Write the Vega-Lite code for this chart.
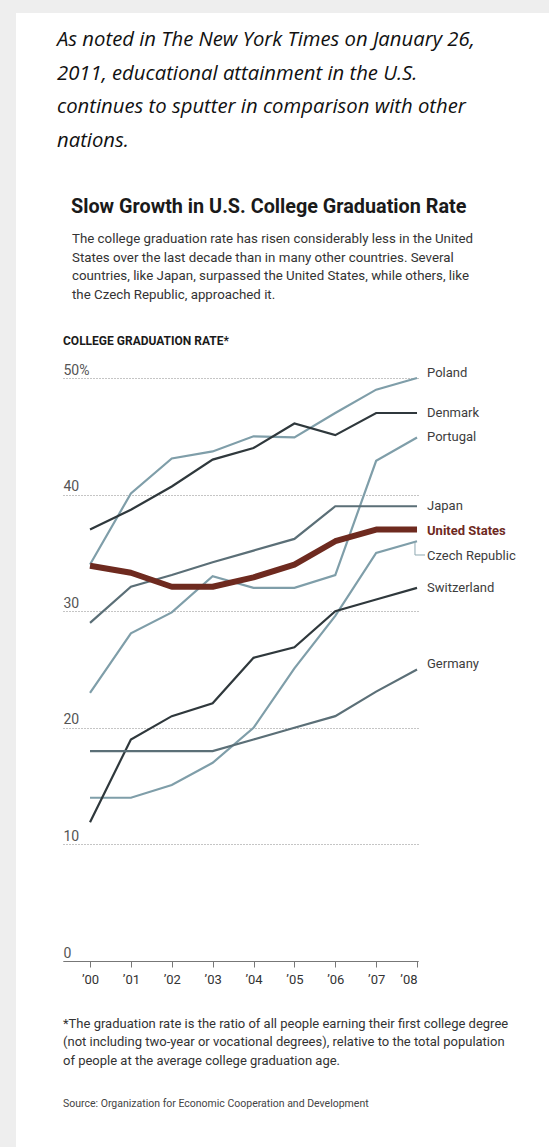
{
  "$schema": "https://vega.github.io/schema/vega-lite/v6.json",
  "width": 355,
  "height": 583,
  "autosize": {"type": "none"},
  "padding": {"left": 63, "top": 378, "right": 131, "bottom": 186},
  "background": "#ffffff",
  "config": {"view": {"stroke": null}, "font": "Roboto"},
  "datasets": {
    "rates": [
      {"country": "Poland", "year": 2000, "rate": 34.0},
      {"country": "Poland", "year": 2001, "rate": 40.1},
      {"country": "Poland", "year": 2002, "rate": 43.1},
      {"country": "Poland", "year": 2003, "rate": 43.7},
      {"country": "Poland", "year": 2004, "rate": 45.0},
      {"country": "Poland", "year": 2005, "rate": 44.9},
      {"country": "Poland", "year": 2006, "rate": 47.0},
      {"country": "Poland", "year": 2007, "rate": 49.0},
      {"country": "Poland", "year": 2008, "rate": 50.0},
      {"country": "Denmark", "year": 2000, "rate": 37.0},
      {"country": "Denmark", "year": 2001, "rate": 38.7},
      {"country": "Denmark", "year": 2002, "rate": 40.7},
      {"country": "Denmark", "year": 2003, "rate": 43.0},
      {"country": "Denmark", "year": 2004, "rate": 44.0},
      {"country": "Denmark", "year": 2005, "rate": 46.1},
      {"country": "Denmark", "year": 2006, "rate": 45.1},
      {"country": "Denmark", "year": 2007, "rate": 47.0},
      {"country": "Denmark", "year": 2008, "rate": 47.0},
      {"country": "Portugal", "year": 2000, "rate": 23.0},
      {"country": "Portugal", "year": 2001, "rate": 28.1},
      {"country": "Portugal", "year": 2002, "rate": 29.9},
      {"country": "Portugal", "year": 2003, "rate": 33.0},
      {"country": "Portugal", "year": 2004, "rate": 32.0},
      {"country": "Portugal", "year": 2005, "rate": 32.0},
      {"country": "Portugal", "year": 2006, "rate": 33.1},
      {"country": "Portugal", "year": 2007, "rate": 42.9},
      {"country": "Portugal", "year": 2008, "rate": 44.9},
      {"country": "Japan", "year": 2000, "rate": 29.0},
      {"country": "Japan", "year": 2001, "rate": 32.1},
      {"country": "Japan", "year": 2002, "rate": 33.1},
      {"country": "Japan", "year": 2003, "rate": 34.2},
      {"country": "Japan", "year": 2004, "rate": 35.2},
      {"country": "Japan", "year": 2005, "rate": 36.2},
      {"country": "Japan", "year": 2006, "rate": 39.0},
      {"country": "Japan", "year": 2007, "rate": 39.0},
      {"country": "Japan", "year": 2008, "rate": 39.0},
      {"country": "United States", "year": 2000, "rate": 33.9},
      {"country": "United States", "year": 2001, "rate": 33.3},
      {"country": "United States", "year": 2002, "rate": 32.1},
      {"country": "United States", "year": 2003, "rate": 32.1},
      {"country": "United States", "year": 2004, "rate": 32.9},
      {"country": "United States", "year": 2005, "rate": 34.0},
      {"country": "United States", "year": 2006, "rate": 36.0},
      {"country": "United States", "year": 2007, "rate": 37.0},
      {"country": "United States", "year": 2008, "rate": 37.0},
      {"country": "Czech Republic", "year": 2000, "rate": 14.0},
      {"country": "Czech Republic", "year": 2001, "rate": 14.0},
      {"country": "Czech Republic", "year": 2002, "rate": 15.1},
      {"country": "Czech Republic", "year": 2003, "rate": 17.0},
      {"country": "Czech Republic", "year": 2004, "rate": 20.0},
      {"country": "Czech Republic", "year": 2005, "rate": 25.1},
      {"country": "Czech Republic", "year": 2006, "rate": 29.6},
      {"country": "Czech Republic", "year": 2007, "rate": 35.0},
      {"country": "Czech Republic", "year": 2008, "rate": 36.0},
      {"country": "Switzerland", "year": 2000, "rate": 11.9},
      {"country": "Switzerland", "year": 2001, "rate": 19.0},
      {"country": "Switzerland", "year": 2002, "rate": 21.0},
      {"country": "Switzerland", "year": 2003, "rate": 22.1},
      {"country": "Switzerland", "year": 2004, "rate": 26.0},
      {"country": "Switzerland", "year": 2005, "rate": 26.9},
      {"country": "Switzerland", "year": 2006, "rate": 30.0},
      {"country": "Switzerland", "year": 2007, "rate": 31.0},
      {"country": "Switzerland", "year": 2008, "rate": 32.0},
      {"country": "Germany", "year": 2000, "rate": 18.0},
      {"country": "Germany", "year": 2001, "rate": 18.0},
      {"country": "Germany", "year": 2002, "rate": 18.0},
      {"country": "Germany", "year": 2003, "rate": 18.0},
      {"country": "Germany", "year": 2004, "rate": 19.0},
      {"country": "Germany", "year": 2005, "rate": 20.0},
      {"country": "Germany", "year": 2006, "rate": 21.0},
      {"country": "Germany", "year": 2007, "rate": 23.1},
      {"country": "Germany", "year": 2008, "rate": 25.0}
    ]
  },
  "layer": [
    {
      "data": {"values": [{}]},
      "mark": {"type": "rect", "color": "#eeeeee"},
      "encoding": {
        "x": {"datum": 1990, "type": "quantitative", "scale": {"domain": [1999.339, 2008.024], "nice": false, "zero": false}},
        "x2": {"datum": 2020},
        "y": {"datum": 90, "type": "quantitative", "scale": {"domain": [0, 50], "nice": false, "zero": false}},
        "y2": {"datum": 81.3}
      }
    },
    {
      "data": {"values": [{}]},
      "mark": {"type": "rect", "color": "#eeeeee"},
      "encoding": {
        "x": {"datum": 1990, "type": "quantitative"},
        "x2": {"datum": 1998.189},
        "y": {"datum": 90, "type": "quantitative"},
        "y2": {"datum": -30}
      }
    },
    {
      "data": {"name": "rates"},
      "transform": [{"filter": "datum.country !== 'United States'"}],
      "mark": {"type": "line", "strokeWidth": 2.2},
      "encoding": {
        "x": {
          "field": "year", "type": "quantitative",
          "scale": {"domain": [1999.339, 2008.024], "nice": false, "zero": false},
          "axis": {
            "values": [2000, 2001, 2002, 2003, 2004, 2005, 2006, 2007, 2008],
            "labelExpr": "'\u2019' + substring(toString(datum.value), 2)",
            "title": null, "grid": false,
            "domainColor": "#777777", "tickColor": "#777777", "tickSize": 6,
            "labelFont": "Roboto", "labelFontSize": 13, "labelColor": "#333333",
            "labelPadding": 6, "labelBaseline": "top"
          }
        },
        "y": {
          "field": "rate", "type": "quantitative",
          "scale": {"domain": [0, 50], "nice": false, "zero": false},
          "axis": {
            "values": [0, 10, 20, 30, 40, 50],
            "title": null, "domain": false, "ticks": false, "tickSize": 0,
            "labelAlign": "left", "labelBaseline": "alphabetic", "labelPadding": 0, "labelOffset": -4,
            "labelExpr": "datum.value == 50 ? '50%' : datum.label",
            "labelFont": "Roboto", "labelFontSize": 14, "labelColor": "#555555",
            "grid": true, "gridDash": [1, 2], "gridColor": "#8a8a8a", "gridWidth": 1
          }
        },
        "color": {
          "field": "country", "type": "nominal", "legend": null,
          "scale": {
            "domain": ["Poland", "Denmark", "Portugal", "Japan", "Czech Republic", "Switzerland", "Germany"],
            "range": ["#7f9ea9", "#2f383c", "#7f9ea9", "#5b6f77", "#7f9ea9", "#2f383c", "#5b6f77"]
          }
        }
      }
    },
    {
      "data": {"name": "rates"},
      "transform": [{"filter": "datum.country === 'United States'"}],
      "mark": {"type": "line", "strokeWidth": 6, "color": "#6e2a1f", "strokeJoin": "round"},
      "encoding": {
        "x": {"field": "year", "type": "quantitative"},
        "y": {"field": "rate", "type": "quantitative"}
      }
    },
    {
      "data": {"name": "rates"},
      "transform": [{"filter": "datum.year === 2008 && indexof(['United States', 'Czech Republic', 'Poland', 'Germany'], datum.country) < 0"}],
      "mark": {"type": "text", "align": "left", "baseline": "middle", "dx": 10, "fontSize": 13, "color": "#3d3d3d"},
      "encoding": {
        "x": {"field": "year", "type": "quantitative"},
        "y": {"field": "rate", "type": "quantitative"},
        "text": {"field": "country"}
      }
    },
    {
      "data": {"name": "rates"},
      "transform": [{"filter": "datum.year === 2008 && datum.country === 'Poland'"}],
      "mark": {"type": "text", "align": "left", "baseline": "middle", "dx": 10, "dy": -5, "fontSize": 13, "color": "#3d3d3d"},
      "encoding": {
        "x": {"field": "year", "type": "quantitative"},
        "y": {"field": "rate", "type": "quantitative"},
        "text": {"field": "country"}
      }
    },
    {
      "data": {"name": "rates"},
      "transform": [{"filter": "datum.year === 2008 && datum.country === 'Germany'"}],
      "mark": {"type": "text", "align": "left", "baseline": "middle", "dx": 10, "dy": -6, "fontSize": 13, "color": "#3d3d3d"},
      "encoding": {
        "x": {"field": "year", "type": "quantitative"},
        "y": {"field": "rate", "type": "quantitative"},
        "text": {"field": "country"}
      }
    },
    {
      "data": {"name": "rates"},
      "transform": [{"filter": "datum.year === 2008 && datum.country === 'Czech Republic'"}],
      "mark": {"type": "text", "align": "left", "baseline": "middle", "dx": 10, "dy": 15, "fontSize": 13, "color": "#3d3d3d"},
      "encoding": {
        "x": {"field": "year", "type": "quantitative"},
        "y": {"field": "rate", "type": "quantitative"},
        "text": {"field": "country"}
      }
    },
    {
      "data": {"name": "rates"},
      "transform": [{"filter": "datum.year === 2008 && datum.country === 'United States'"}],
      "mark": {"type": "text", "align": "left", "baseline": "middle", "dx": 10, "dy": 1, "fontSize": 13, "fontWeight": "bold", "color": "#6e2a1f"},
      "encoding": {
        "x": {"field": "year", "type": "quantitative"},
        "y": {"field": "rate", "type": "quantitative"},
        "text": {"field": "country"}
      }
    },
    {
      "data": {"values": [{}]},
      "mark": {"type": "rule", "color": "#8fa9b2", "strokeWidth": 1},
      "encoding": {
        "x": {"datum": 2007.95, "type": "quantitative"},
        "y": {"datum": 36, "type": "quantitative"},
        "y2": {"datum": 34.82}
      }
    },
    {
      "data": {"values": [{}]},
      "mark": {"type": "rule", "color": "#8fa9b2", "strokeWidth": 1},
      "encoding": {
        "x": {"datum": 2007.95, "type": "quantitative"},
        "x2": {"datum": 2008.196},
        "y": {"datum": 34.82, "type": "quantitative"}
      }
    },
    {
      "data": {"values": [{}]},
      "mark": {"type": "text", "align": "left", "baseline": "alphabetic", "font": "Open Sans", "fontStyle": "italic", "fontSize": 20.3, "lineHeight": 33.5, "color": "#111111"},
      "encoding": {
        "x": {"datum": 1999.192, "type": "quantitative"},
        "y": {"datum": 78.47, "type": "quantitative"},
        "text": {"value": ["As noted in The New York Times on January 26,", "2011, educational attainment in the U.S.", "continues to sputter in comparison with other", "nations."]}
      }
    },
    {
      "data": {"values": [{}]},
      "mark": {"type": "text", "align": "left", "baseline": "alphabetic", "font": "Roboto", "fontWeight": "bold", "fontSize": 19.8, "color": "#1a1a1a"},
      "encoding": {
        "x": {"datum": 1999.535, "type": "quantitative"},
        "y": {"datum": 64.15, "type": "quantitative"},
        "text": {"value": "Slow Growth in U.S. College Graduation Rate"}
      }
    },
    {
      "data": {"values": [{}]},
      "mark": {"type": "text", "align": "left", "baseline": "alphabetic", "font": "Roboto", "fontSize": 13.3, "lineHeight": 18.7, "color": "#333333"},
      "encoding": {
        "x": {"datum": 1999.559, "type": "quantitative"},
        "y": {"datum": 61.58, "type": "quantitative"},
        "text": {"value": ["The college graduation rate has risen considerably less in the United", "States over the last decade than in many other countries. Several", "countries, like Japan, surpassed the United States, while others, like", "the Czech Republic, approached it."]}
      }
    },
    {
      "data": {"values": [{}]},
      "mark": {"type": "text", "align": "left", "baseline": "alphabetic", "font": "Roboto", "fontWeight": "bold", "fontSize": 12, "color": "#1a1a1a"},
      "encoding": {
        "x": {"datum": 1999.339, "type": "quantitative"},
        "y": {"datum": 52.83, "type": "quantitative"},
        "text": {"value": "COLLEGE GRADUATION RATE*"}
      }
    },
    {
      "data": {"values": [{}]},
      "mark": {"type": "text", "align": "left", "baseline": "alphabetic", "font": "Roboto", "fontSize": 13, "lineHeight": 18.5, "color": "#333333"},
      "encoding": {
        "x": {"datum": 1999.339, "type": "quantitative"},
        "y": {"datum": -5.746, "type": "quantitative"},
        "text": {"value": ["*The graduation rate is the ratio of all people earning their first college degree", "(not including two-year or vocational degrees), relative to the total population", "of people at the average college graduation age."]}
      }
    },
    {
      "data": {"values": [{}]},
      "mark": {"type": "text", "align": "left", "baseline": "alphabetic", "font": "Roboto", "fontSize": 10.5, "color": "#444444"},
      "encoding": {
        "x": {"datum": 1999.339, "type": "quantitative"},
        "y": {"datum": -12.52, "type": "quantitative"},
        "text": {"value": "Source: Organization for Economic Cooperation and Development"}
      }
    }
  ]
}
